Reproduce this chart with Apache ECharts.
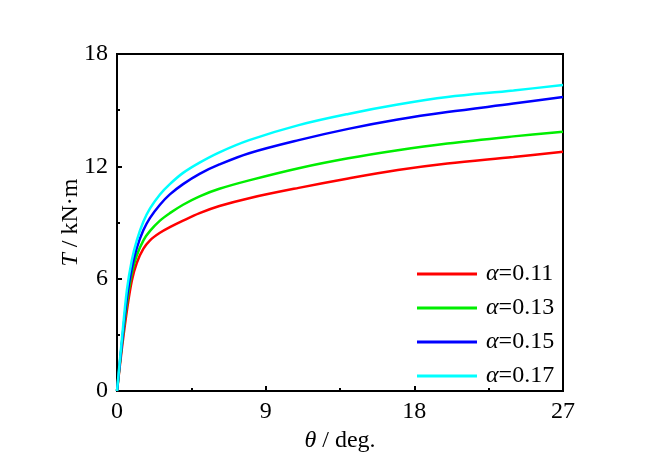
<!DOCTYPE html>
<html>
<head>
<meta charset="utf-8">
<script src="https://cdn.jsdelivr.net/npm/echarts@6/dist/echarts.min.js"></script>
<style>
  html, body { margin: 0; padding: 0; background: #fff; }
  #chart { width: 656px; height: 470px; }
</style>
</head>
<body>
<div id="chart"></div>
<script>
// θ (deg.) sample points shared by all curves
const theta = [0, 0.3, 0.6, 0.9, 1.2, 1.6, 2, 2.6, 3.2, 4, 5, 6.2, 8, 11, 14, 17, 20, 24, 27]

// T (kN·m)
const t011 = [0, 2.3, 4.3, 5.9, 6.85, 7.6, 8.05, 8.45, 8.75, 9.1, 9.5, 9.88, 10.3, 10.85, 11.35, 11.8, 12.15, 12.5, 12.78]
const t013 = [0, 2.5, 4.7, 6.3, 7.25, 8.05, 8.55, 9.1, 9.5, 9.95, 10.4, 10.8, 11.25, 11.9, 12.43, 12.86, 13.22, 13.6, 13.85]
const t015 = [0, 2.6, 5.0, 6.6, 7.65, 8.6, 9.25, 9.95, 10.5, 11.05, 11.6, 12.1, 12.7, 13.4, 14.0, 14.5, 14.9, 15.35, 15.7]
const t017 = [0, 2.8, 5.4, 7.0, 8.05, 9.05, 9.75, 10.5, 11.05, 11.65, 12.2, 12.75, 13.4, 14.2, 14.8, 15.3, 15.7, 16.05, 16.35]

const alphas = ["0.11", "0.13", "0.15", "0.17"]
const colors = ["#ff0000", "#00ee00", "#0000ff", "#00ffff"]
const values = [t011, t013, t015, t017]

const font = "Liberation Serif"

const myChart = echarts.init(document.getElementById("chart"))

let series = values.map((v, i) => {
  return {
    name: alphas[i],
    type: "line",
    smooth: 0.35,
    symbol: "none",
    lineStyle: { width: 2.5, color: colors[i] },
    itemStyle: { color: colors[i] },
    data: theta.map((x, j) => [x, v[j]])
  }
})

let option = {
  animation: false,
  grid: {
    left: 117,
    top: 54,
    width: 446,
    height: 337,
    show: true,
    borderColor: "#000",
    borderWidth: 2,
    backgroundColor: "transparent"
  },
  legend: {
    orient: "vertical",
    left: 412,
    top: 257,
    itemWidth: 60,
    itemHeight: 3,
    itemGap: 10,
    icon: "rect",
    formatter: function (name) {
      return "{a|α}=" + name
    },
    textStyle: {
      fontFamily: font,
      fontSize: 24,
      color: "#000",
      lineHeight: 24,
      padding: [0, 0, 0, 4],
      rich: {
        a: { fontFamily: font, fontSize: 24, fontStyle: "italic", color: "#000" }
      }
    }
  },
  xAxis: {
    type: "value",
    min: 0,
    max: 27,
    interval: 9,
    name: "{i|θ} / deg.",
    nameLocation: "middle",
    nameGap: 36,
    nameTextStyle: {
      fontFamily: font,
      fontSize: 24,
      color: "#000",
      rich: {
        i: { fontFamily: font, fontSize: 24, fontStyle: "italic", color: "#000" }
      }
    },
    axisLine: { lineStyle: { color: "#000", width: 2 } },
    axisTick: { inside: true, length: 5, lineStyle: { color: "#000", width: 2 } },
    minorTick: { show: true, splitNumber: 2, length: 3, lineStyle: { color: "#000", width: 2 } },
    axisLabel: { fontFamily: font, fontSize: 24, color: "#000", margin: 9 },
    splitLine: { show: false }
  },
  yAxis: {
    type: "value",
    min: 0,
    max: 18,
    interval: 6,
    name: "{i|T} / kN·m",
    nameLocation: "middle",
    nameGap: 34,
    nameMoveOverlap: false,
    nameTextStyle: {
      fontFamily: font,
      fontSize: 24,
      color: "#000",
      rich: {
        i: { fontFamily: font, fontSize: 24, fontStyle: "italic", color: "#000" }
      }
    },
    axisLine: { lineStyle: { color: "#000", width: 2 } },
    axisTick: { inside: true, length: 5, lineStyle: { color: "#000", width: 2 } },
    minorTick: { show: true, splitNumber: 2, length: 3, lineStyle: { color: "#000", width: 2 } },
    axisLabel: { fontFamily: font, fontSize: 24, color: "#000", margin: 9 },
    splitLine: { show: false }
  },
  series: series
}

myChart.setOption(option)
</script>
</body>
</html>
